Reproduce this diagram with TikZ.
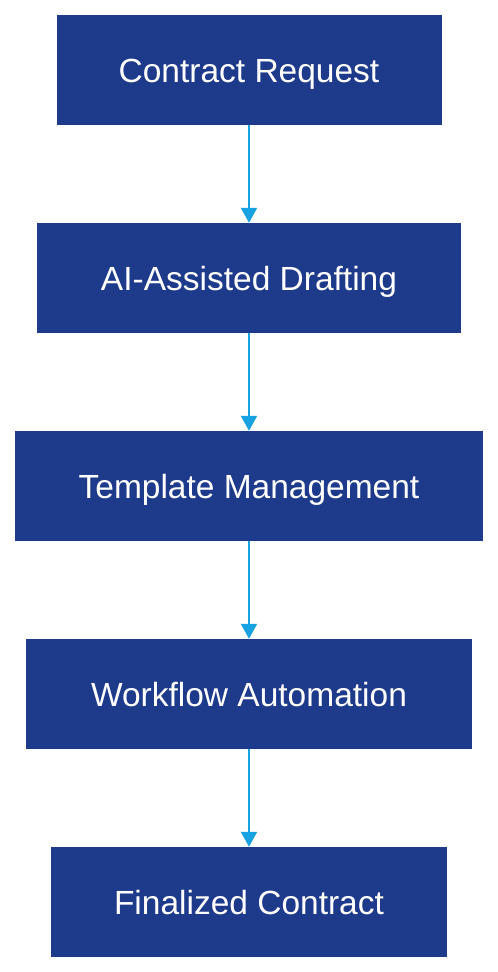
\documentclass[tikz,border=0pt]{standalone}
\usepackage{fontspec}
\setmainfont{Liberation Sans}
\usetikzlibrary{arrows.meta}
\definecolor{boxblue}{HTML}{1E3A8A}
\definecolor{arrowblue}{HTML}{17A2E2}
\begin{document}
\begin{tikzpicture}[x=1pt,y=-1pt,
  stepbox/.style={fill=boxblue,draw=none,text=white,minimum height=110pt,inner sep=0pt,text height=24pt,text depth=0pt,font=\fontsize{33.5}{38}\selectfont},
  conn/.style={draw=arrowblue,line width=2pt,-{Triangle[width=16pt,length=15pt]}}]
\useasboundingbox[fill=white] (0,0) rectangle (498,972);
\node[stepbox,minimum width=385pt] (a) at (249,70) {Contract Request};
\node[stepbox,minimum width=424pt] (b) at (249,278) {AI-Assisted Drafting};
\node[stepbox,minimum width=468pt] (c) at (249,486) {Template Management};
\node[stepbox,minimum width=446pt] (d) at (249,694) {Workflow Automation};
\node[stepbox,minimum width=396pt] (e) at (249,902) {Finalized Contract};
\draw[conn] (a) -- (b);
\draw[conn] (b) -- (c);
\draw[conn] (c) -- (d);
\draw[conn] (d) -- (e);
\end{tikzpicture}
\end{document}
